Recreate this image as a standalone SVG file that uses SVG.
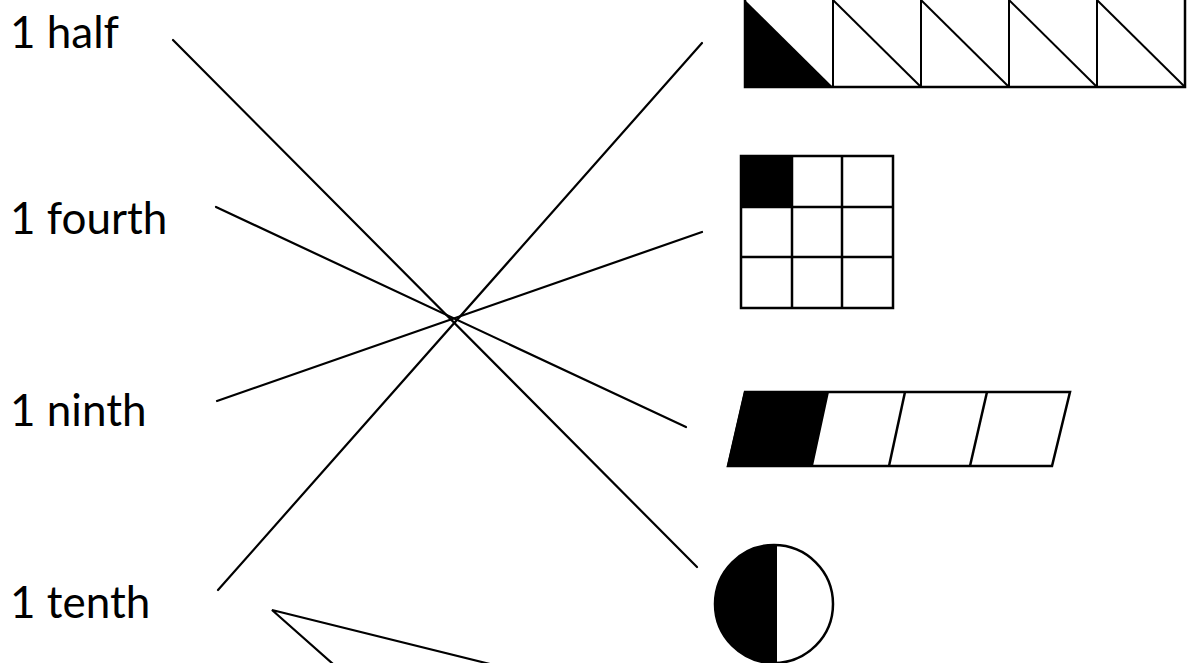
<svg xmlns="http://www.w3.org/2000/svg" width="1188" height="663" viewBox="0 0 1188 663">
<style>
.lbl{font-family:Lato,"Liberation Sans",sans-serif;font-size:44px;fill:#000}
.ln{stroke:#000;stroke-width:2.2;fill:none;stroke-linecap:round}
.sh{stroke:#000;stroke-width:2.5;fill:#fff}
.thin{stroke:#000;stroke-width:2;fill:none}
</style>
<rect width="1188" height="663" fill="#fff"/>
<g id="label-half"><text class="lbl" x="10" y="48">1 half</text></g>
<g id="label-fourth"><text class="lbl" x="10" y="234">1 fourth</text></g>
<g id="label-ninth"><text class="lbl" x="10" y="426">1 ninth</text></g>
<g id="label-tenth"><text class="lbl" x="10" y="618">1 tenth</text></g>
<g id="connectors">
<line class="ln" x1="173" y1="40" x2="697" y2="567"/>
<line class="ln" x1="216" y1="207" x2="686" y2="427"/>
<line class="ln" x1="217" y1="401" x2="702" y2="232"/>
<line class="ln" x1="218" y1="590" x2="702" y2="43"/>
<polyline class="ln" points="490,664 272,610 333,664"/>
</g>
<g id="shape-strip">
<rect class="sh" x="745" y="-2" width="440" height="89"/>
<polygon points="745,0 745,87 833,87" fill="#000"/>
<line class="thin" x1="833" y1="0" x2="833" y2="87"/>
<line class="thin" x1="921" y1="0" x2="921" y2="87"/>
<line class="thin" x1="1009" y1="0" x2="1009" y2="87"/>
<line class="thin" x1="1097" y1="0" x2="1097" y2="87"/>
<line class="thin" x1="833" y1="0" x2="921" y2="87"/>
<line class="thin" x1="921" y1="0" x2="1009" y2="87"/>
<line class="thin" x1="1009" y1="0" x2="1097" y2="87"/>
<line class="thin" x1="1097" y1="0" x2="1185" y2="87"/>
</g>
<g id="shape-grid">
<rect class="sh" x="741" y="156" width="152" height="152"/>
<rect x="741" y="156" width="51" height="51" fill="#000"/>
<line class="sh" x1="792" y1="156" x2="792" y2="308"/>
<line class="sh" x1="842" y1="156" x2="842" y2="308"/>
<line class="sh" x1="741" y1="207" x2="893" y2="207"/>
<line class="sh" x1="741" y1="257" x2="893" y2="257"/>
</g>
<g id="shape-parallelogram">
<polygon class="sh" points="745,392 1070,392 1052,466 728,466"/>
<polygon points="745,392 828,392 812,466 728,466" fill="#000" stroke="#000" stroke-width="2"/>
<line class="sh" x1="905" y1="392" x2="889" y2="466"/>
<line class="sh" x1="987" y1="392" x2="970" y2="466"/>
</g>
<g id="shape-circle">
<circle cx="774" cy="604" r="59" fill="#fff"/>
<path d="M776,545.03 A59,59 0 1 0 776,662.97 Z" fill="#000"/>
<circle cx="774" cy="604" r="59" fill="none" stroke="#000" stroke-width="2.5"/>
<line class="thin" x1="776" y1="545" x2="776" y2="663"/>
</g>
</svg>
